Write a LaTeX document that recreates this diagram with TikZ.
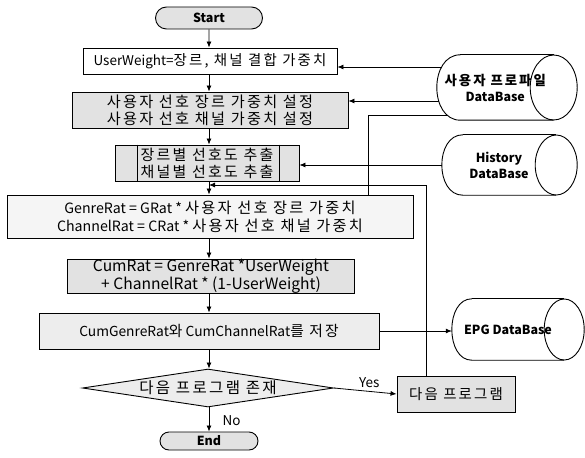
\documentclass[tikz,border=0pt]{standalone}
\usepackage{fontspec}
\setmainfont{Noto Sans CJK KR}
\newfontfamily\krfont[Scale=1.07, LetterSpace=15]{Noto Sans CJK KR}
\newcommand{\hg}[1]{{\krfont #1}}
\usetikzlibrary{shapes, arrows.meta, positioning, calc}
\definecolor{BoxGray}{HTML}{E2E2E2}

\begin{document}
\begin{tikzpicture}[x=1pt, y=-1pt,
  every node/.style={font=\fontsize{13.5}{17}\selectfont},
  procbox/.style={draw, line width=0.9pt, fill=BoxGray, align=center, inner sep=0pt},
  termbox/.style={draw, rounded rectangle, line width=0.9pt, fill=BoxGray, inner sep=0pt, font=\fontsize{12.5}{14}\selectfont\bfseries},
  dbtext/.style={align=center, inner sep=0pt, font=\fontsize{12.5}{16}\selectfont\bfseries},
  dbline/.style={line width=0.9pt},
  flow/.style={-{Latex[length=6pt,width=5pt]}, line width=0.8pt},
  link/.style={line width=0.8pt},
  ]
  \useasboundingbox (0,0) rectangle (585,457);

  \node[termbox, minimum width=107pt, minimum height=22pt] (start) at (209,18) {Start};
  \node[procbox, fill=white, minimum width=254pt, minimum height=26pt] (uw) at (210,61) {UserWeight=\hg{장르, 채널 결합 가중치}};
  \node[procbox, minimum width=276pt, minimum height=36pt, font=\fontsize{14.2}{17}\selectfont] (pref) at (210,110) {\hg{사용자 선호 장르 가중치 설정}\\\hg{사용자 선호 채널 가중치 설정}};
  \node[procbox, minimum width=184pt, minimum height=36pt, font=\fontsize{14}{17}\selectfont] (extr) at (207,163) {\hg{장르별 선호도 추출}\\\hg{채널별 선호도 추출}};
  \draw[link] ([xshift=23pt]extr.north west) -- ([xshift=23pt]extr.south west);
  \draw[link] ([xshift=-20pt]extr.north east) -- ([xshift=-20pt]extr.south east);
  \node[procbox, fill=black!4, minimum width=406pt, minimum height=43pt, font=\fontsize{14.2}{18}\selectfont] (rat) at (210,216.5) {GenreRat = GRat * \hg{사용자 선호 장르 가중치}\\ChannelRat = CRat * \hg{사용자 선호 채널 가중치}};
  \node[procbox, minimum width=287pt, minimum height=32pt, font=\fontsize{15.6}{16.5}\selectfont] (cum) at (211,276) {CumRat = GenreRat *UserWeight\\+ ChannelRat * (1-UserWeight)};
  \node[procbox, fill=black!7, minimum width=340pt, minimum height=36pt, font=\fontsize{13.8}{17}\selectfont] (save) at (209,331) {CumGenreRat\hg{와} CumChannelRat\hg{를 저장}};
  \node[procbox, fill=black!7, diamond, aspect=6.6, minimum width=251pt, minimum height=38pt, font=\fontsize{14.5}{18}\selectfont] (dec) at (208,388) {\hg{다음 프로그램 존재}};
  \node[termbox, minimum width=98pt, minimum height=18pt] (end) at (209,441) {End};
  \node[procbox, minimum width=118pt, minimum height=36pt] (next) at (456,394) {\hg{다음 프로그램}};

  \node[dbtext, minimum width=116.5pt, minimum height=65pt] (prof) at (495.25,87.5) {\hg{사용자 프로파일}\\DataBase};
  \node[dbtext, minimum width=114pt, minimum height=60pt] (hist) at (499,165) {History\\DataBase};
  \node[dbtext, minimum width=112pt, minimum height=61pt] (epg) at (508,329.5) {EPG DataBase};
  \foreach \db/\rx/\ry in {prof/23.5/32.5, hist/21/30, epg/20/30.5} {
    \draw[dbline] ([xshift=\rx pt]\db.north west) .. controls ([xshift={-\rx pt/3}]\db.north west) and ([xshift={-\rx pt/3}]\db.south west) .. ([xshift=\rx pt]\db.south west) -- (\db.south east);
    \draw[dbline] ([xshift=\rx pt]\db.north west) -- (\db.north east);
    \draw[dbline] (\db.east) ellipse [x radius=\rx pt, y radius=\ry pt];
  }

  \coordinate (join) at (209,185);

  \draw[flow] (start) -- (start |- uw.north);
  \draw[flow] (uw.south -| start) -- (start |- pref.north);
  \draw[flow] (pref.south -| start) -- (start |- extr.north);
  \draw[link] (extr.south -| join) -- (join);
  \draw[flow] (join) -- (join |- rat.north);
  \draw[flow] (rat.south -| join) -- (join |- cum.north);
  \draw[flow] (cum.south -| join) -- (join |- save.north);
  \draw[flow] (save.south -| join) -- (join |- dec.north);
  \draw[flow] (dec.south -| join) -- node[right, xshift=10pt, yshift=-1pt] {No} (join |- end.north);
  \draw[flow] (dec.east) -- node[above, xshift=4pt] {Yes} (next.west);
  \draw[flow] ([xshift=-30pt]next.north) |- (join);

  \draw[flow] ($(prof.west |- uw.east)+(5,6)$) -- ([yshift=-6pt]uw.east);
  \draw[flow] ($(prof.west |- pref.east)+(2,-9)$) -- ([yshift=9pt]pref.east);
  \draw[link] ($(prof.west)+(11,28)$) -| ([xshift=-45pt]rat.north east);
  \draw[flow] (hist.west) -- (hist.west -| extr.east);
  \draw[flow] (save.east) -- (save.east -| epg.west);
\end{tikzpicture}
\end{document}
